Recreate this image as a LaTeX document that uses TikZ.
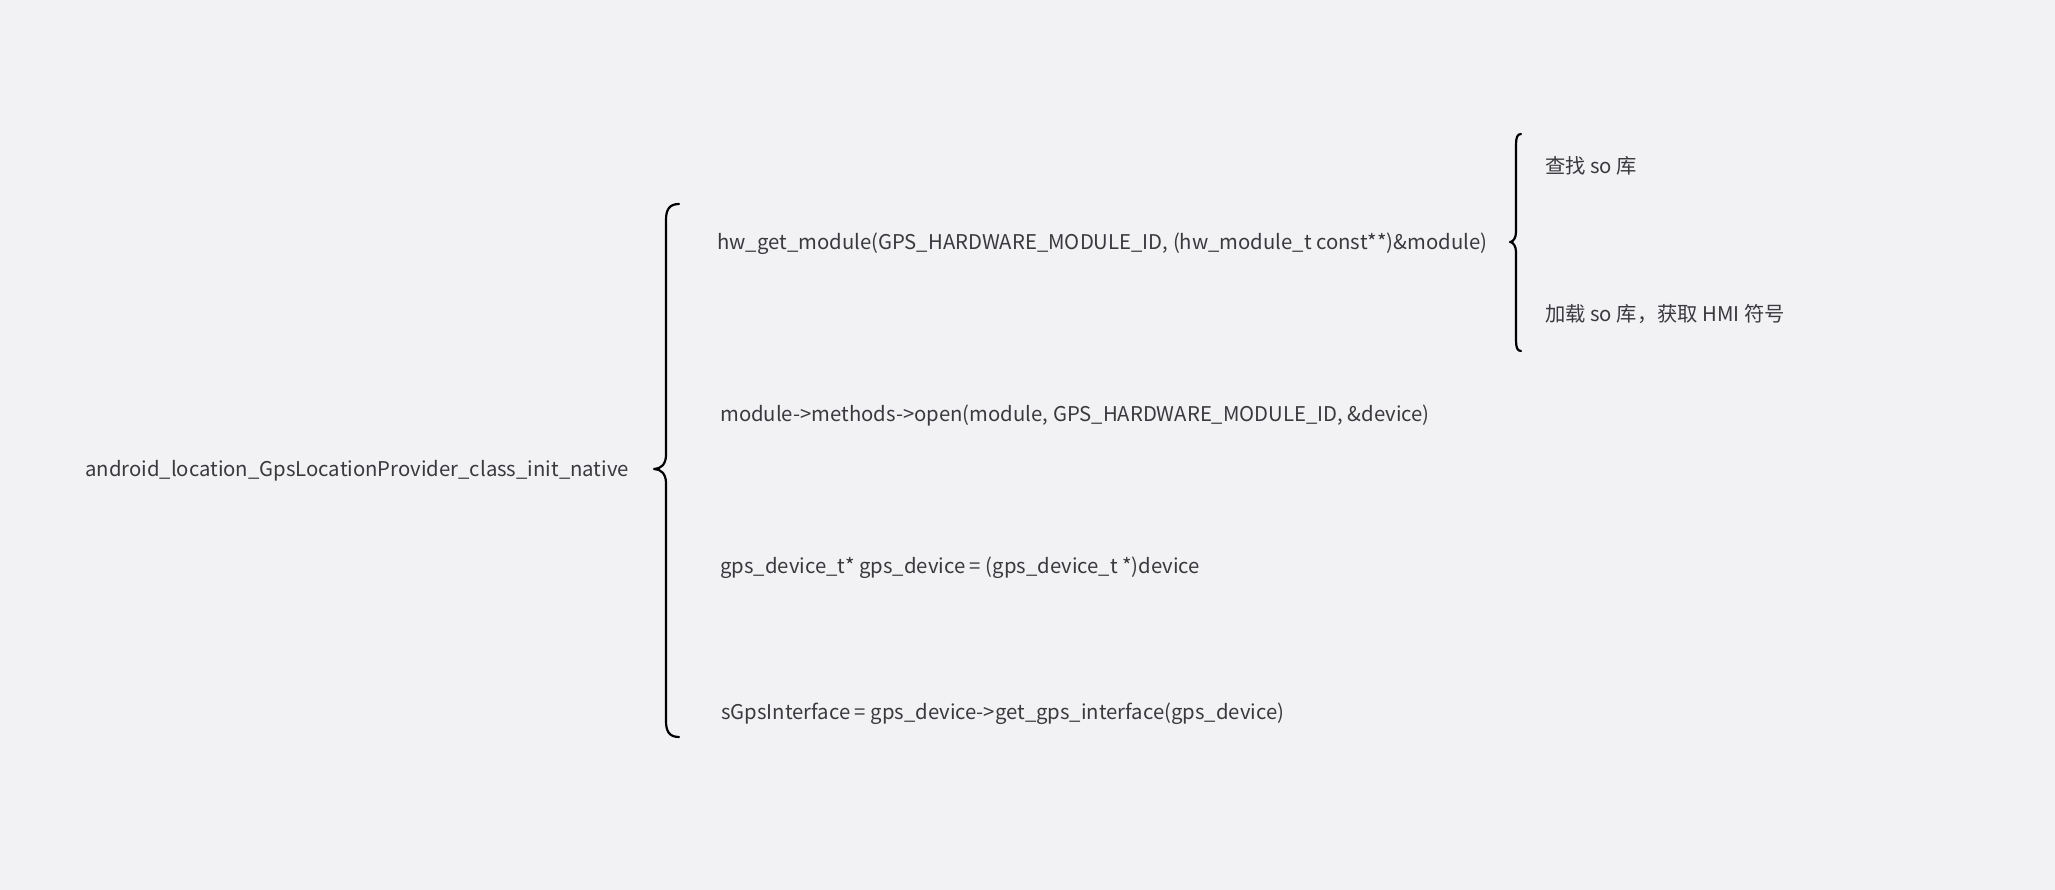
\documentclass[tikz,border=0pt]{standalone}
\usepackage{fontspec}
\setmainfont{Noto Sans CJK SC}
\definecolor{bgcol}{RGB}{242,242,245}
\definecolor{txtcol}{RGB}{58,58,62}
\begin{document}
\begin{tikzpicture}[x=1pt,y=-1pt,
    item/.style={anchor=west,inner sep=0pt,text=txtcol,font=\fontsize{20.3}{24}\selectfont},
    brc/.style={line width=2.2pt,line cap=round,line join=round}]
    \fill[bgcol] (0,0) rectangle (2055,890);
    \useasboundingbox (0,0) rectangle (2055,890);
    % root
    \node[item] (root) at (85,471) {android\_location\_GpsLocationProvider\_class\_init\_native};
    % big brace
    \draw[brc] (679,204) .. controls (669,204) and (666,210) .. (666,220) -- (666,455)
        .. controls (666,464) and (661,469) .. (654,469)
        .. controls (661,469) and (666,474) .. (666,483) -- (666,721)
        .. controls (666,731) and (669,737) .. (679,737);
    \node[item] (hw) at (717,244) {hw\_get\_module(GPS\_HARDWARE\_MODULE\_ID, (hw\_module\_t const**)\&module)};
    \node[item] (open) at (720,416) {module->methods->open(module, GPS\_HARDWARE\_MODULE\_ID, \&device)};
    \node[item] (dev) at (720,568) {gps\_device\_t* gps\_device = (gps\_device\_t *)device};
    \node[item] (intf) at (721,714) {sGpsInterface = gps\_device->get\_gps\_interface(gps\_device)};
    % small brace
    \draw[brc] (1521,134) .. controls (1517,134) and (1516,138) .. (1516,145) -- (1516,232)
        .. controls (1516,238) and (1513,242) .. (1510,242)
        .. controls (1513,242) and (1516,246) .. (1516,252) -- (1516,340)
        .. controls (1516,347) and (1517,351) .. (1521,351);
    \node[item] (find) at (1545,166) {查找 so 库};
    \node[item] (load) at (1545,314) {加载 so 库，获取 HMI 符号};
\end{tikzpicture}
\end{document}
